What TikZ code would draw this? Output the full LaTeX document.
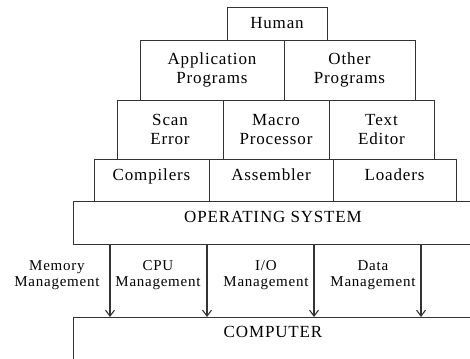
\documentclass[tikz,border=0pt]{standalone}
\usepackage{fontspec}
\setmainfont{Liberation Serif}[LetterSpace=5]
\usetikzlibrary{arrows.meta}

\tikzset{
  layer/.style={draw=black!80, line width=0.8pt, anchor=north west, inner sep=0pt,
    outer sep=0pt, align=center, font=\fontsize{17}{19}\selectfont},
  toptext/.style={text height=21pt, text depth=#1},
  mgmt/.style={anchor=east, align=center, font=\fontsize{15}{16.5}\selectfont},
  down/.style={-{Straight Barb[length=6pt,width=9pt]}, line width=1.1pt, black!80}
}

\begin{document}
\begin{tikzpicture}[x=1pt,y=-1pt]
  \useasboundingbox (0,0) rectangle (470,358);
  \clip (0,0) rectangle (470,358);
  % layers, top to bottom
  \node[layer, minimum width=100pt, minimum height=33pt] (human) at (227,7) {Human};
  \node[layer, minimum width=144pt, minimum height=60pt] (app) at (140,40) {Application\\Programs};
  \node[layer, minimum width=131pt, minimum height=60pt] (other) at (284,40) {Other\\Programs};
  \node[layer, minimum width=106pt, minimum height=59pt] (scan) at (117,100) {Scan\\Error};
  \node[layer, minimum width=106pt, minimum height=59pt] (macro) at (223,100) {Macro\\Processor};
  \node[layer, minimum width=105pt, minimum height=59pt] (editor) at (329,100) {Text\\Editor};
  \node[layer, toptext=21pt, minimum width=115pt, minimum height=42pt] (compilers) at (94,159) {Compilers};
  \node[layer, toptext=21pt, minimum width=124pt, minimum height=42pt] (assembler) at (209,159) {Assembler};
  \node[layer, toptext=21pt, minimum width=123pt, minimum height=42pt] (loaders) at (333,159) {Loaders};
  \node[layer, toptext=21.7pt, text height=21.3pt, minimum width=400pt, minimum height=43pt] (os) at (73,201) {OPERATING SYSTEM};
  \node[layer, toptext=25pt, text height=20.3pt, minimum width=400pt, minimum height=45pt] (computer) at (73,317) {COMPUTER};

  % management functions
  \node[mgmt] (memory) at (103,275) {Memory\\Management};
  \node[mgmt] (cpu) at (204,275) {CPU\\Management};
  \node[mgmt] (io) at (312,275) {I/O\\Management};
  \node[mgmt] (data) at (419,275) {Data\\Management};
  \foreach \c/\x in {m1/110, m2/207, m3/314, m4/421} {
    \coordinate (\c) at (\x,0);
    \draw[down] (os.south -| \c) -- (computer.north -| \c);
  }
\end{tikzpicture}
\end{document}
